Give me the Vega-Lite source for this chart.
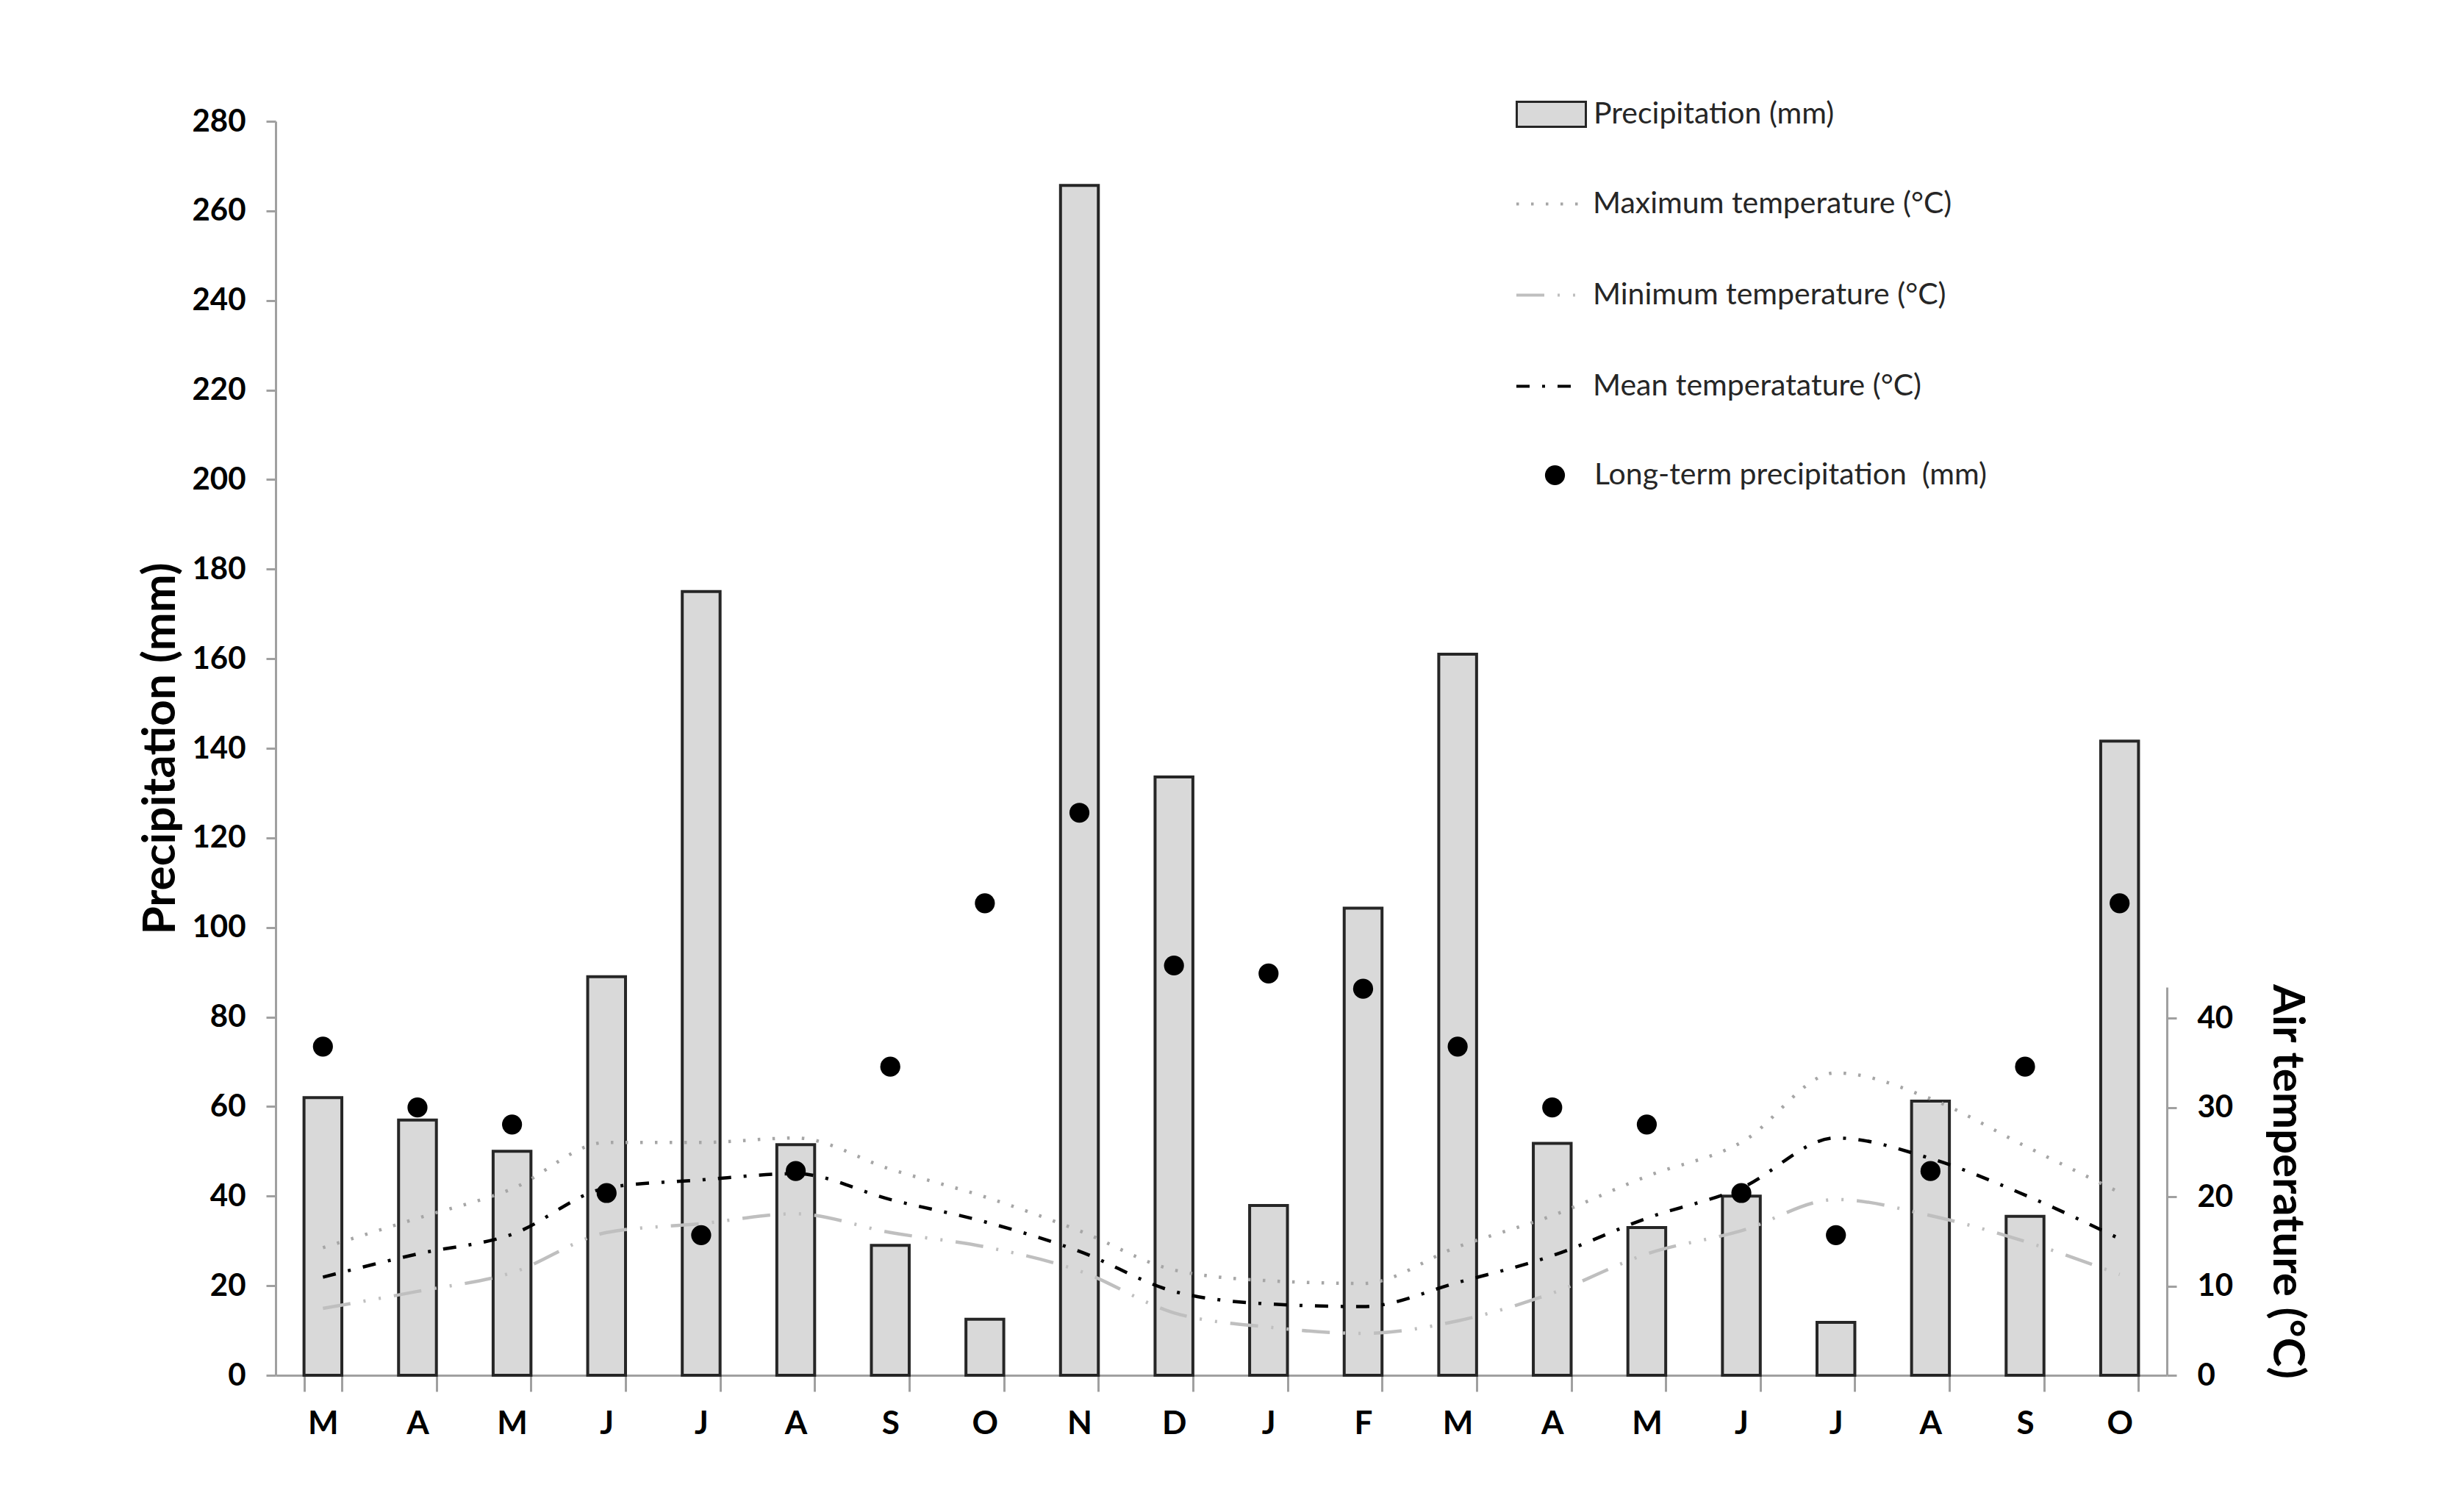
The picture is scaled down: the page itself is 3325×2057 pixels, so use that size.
{
  "$schema": "https://vega.github.io/schema/vega-lite/v6.json",
  "autosize": {"type": "none"},
  "width": 2573,
  "height": 1706,
  "padding": {"left": 375, "top": 165, "right": 377, "bottom": 186},
  "background": "white",
  "config": {
    "view": {"stroke": null},
    "font": "Lato",
    "legend": {"padding": 0, "labelFont": "Lato", "labelFontSize": 41, "labelColor": "#262626", "labelLimit": 900}
  },
  "data": {
    "values": [
      {"idx": 1, "precip": 62, "longterm": 73.4, "tmax": 14.3, "tmin": 7.5, "tmean": 11},
      {"idx": 2, "precip": 57, "longterm": 59.8, "tmax": 17.6, "tmin": 9.4, "tmean": 13.6},
      {"idx": 3, "precip": 50, "longterm": 56, "tmax": 20.9, "tmin": 11.5, "tmean": 15.8},
      {"idx": 4, "precip": 89, "longterm": 40.7, "tmax": 26.1, "tmin": 16, "tmean": 21},
      {"idx": 5, "precip": 175, "longterm": 31.3, "tmax": 26.1, "tmin": 17, "tmean": 21.9},
      {"idx": 6, "precip": 51.5, "longterm": 45.6, "tmax": 26.6, "tmin": 18.1, "tmean": 22.6},
      {"idx": 7, "precip": 29, "longterm": 68.9, "tmax": 23.1, "tmin": 16, "tmean": 19.7},
      {"idx": 8, "precip": 12.5, "longterm": 105.4, "tmax": 20, "tmin": 14.4, "tmean": 17.2},
      {"idx": 9, "precip": 265.7, "longterm": 125.6, "tmax": 16.2, "tmin": 11.7, "tmean": 13.9},
      {"idx": 10, "precip": 133.6, "longterm": 91.5, "tmax": 11.8, "tmin": 7, "tmean": 9.4},
      {"idx": 11, "precip": 37.9, "longterm": 89.7, "tmax": 10.6, "tmin": 5.4, "tmean": 8},
      {"idx": 12, "precip": 104.3, "longterm": 86.3, "tmax": 10.3, "tmin": 4.7, "tmean": 7.7},
      {"idx": 13, "precip": 161, "longterm": 73.4, "tmax": 14.4, "tmin": 6.1, "tmean": 10.4},
      {"idx": 14, "precip": 51.8, "longterm": 59.8, "tmax": 17.9, "tmin": 9.2, "tmean": 13.4},
      {"idx": 15, "precip": 33, "longterm": 56, "tmax": 22.3, "tmin": 13.6, "tmean": 17.6},
      {"idx": 16, "precip": 40, "longterm": 40.7, "tmax": 26.1, "tmin": 16.2, "tmean": 21},
      {"idx": 17, "precip": 11.8, "longterm": 31.3, "tmax": 33.9, "tmin": 19.7, "tmean": 26.6},
      {"idx": 18, "precip": 61.2, "longterm": 45.6, "tmax": 31, "tmin": 17.9, "tmean": 24.3},
      {"idx": 19, "precip": 35.5, "longterm": 68.9, "tmax": 25.7, "tmin": 15, "tmean": 20.2},
      {"idx": 20, "precip": 141.6, "longterm": 105.4, "tmax": 20.5, "tmin": 11.3, "tmean": 15.3}
    ]
  },
  "encoding": {
    "x": {
      "field": "idx",
      "type": "ordinal",
      "scale": {"paddingInner": 0.6, "paddingOuter": 0.3},
      "axis": {
        "title": null,
        "labelAngle": 0,
        "labelExpr": "datum.value >= 1 && datum.value <= 20 ? substring('MAMJJASONDJFMAMJJASO', datum.value - 1, datum.value) : ''",
        "labelFont": "Lato",
        "labelFontWeight": "bold",
        "labelFontSize": 44,
        "labelColor": "black",
        "labelPadding": 22,
        "tickBand": "extent",
        "tickSize": 22,
        "tickColor": "#a0a0a0",
        "tickWidth": 3,
        "domainColor": "#a0a0a0",
        "domainWidth": 3
      }
    }
  },
  "layer": [
    {
      "mark": {"type": "bar", "stroke": "#262626", "strokeWidth": 4},
      "encoding": {
        "y": {
          "field": "precip",
          "type": "quantitative",
          "scale": {"domain": [0, 280], "nice": false},
          "axis": {
            "values": [0, 20, 40, 60, 80, 100, 120, 140, 160, 180, 200, 220, 240, 260, 280],
            "title": "Precipitation (mm)",
            "titleFont": "Lato",
            "titleFontSize": 62,
            "titleFontWeight": "bold",
            "titleColor": "black",
            "titlePadding": 10,
            "labelFont": "Lato",
            "labelFontSize": 42,
            "labelFontWeight": "bold",
            "labelColor": "black",
            "labelPadding": 28,
            "tickSize": 13,
            "tickColor": "#a0a0a0",
            "tickWidth": 3,
            "domainColor": "#a0a0a0",
            "domainWidth": 3,
            "grid": false
          }
        },
        "fill": {
          "datum": "Precipitation (mm)",
          "scale": {"range": ["#d9d9d9"]},
          "legend": {
            "title": null,
            "orient": "none",
            "legendX": 1687,
            "legendY": -58,
            "symbolType": "M-1,-0.36H1V0.36H-1Z",
            "symbolSize": 8836,
            "symbolStrokeColor": "#262626",
            "symbolStrokeWidth": 3,
            "labelOffset": 9
          }
        }
      }
    },
    {
      "transform": [{"fold": ["tmax", "tmin", "tmean"], "as": ["series", "temp"]}],
      "mark": {"type": "line", "interpolate": "monotone", "strokeWidth": 4.5},
      "encoding": {
        "y": {
          "field": "temp",
          "type": "quantitative",
          "scale": {"domain": [0, 43.5], "nice": false, "range": [1706, 1178]},
          "axis": {
            "orient": "right",
            "values": [0, 10, 20, 30, 40],
            "title": "Air temperature (°C)",
            "titleFont": "Lato",
            "titleFontSize": 60,
            "titleFontWeight": "bold",
            "titleColor": "black",
            "titlePadding": 42,
            "labelFont": "Lato",
            "labelFontSize": 42,
            "labelFontWeight": "bold",
            "labelColor": "black",
            "labelPadding": 28,
            "tickSize": 13,
            "tickColor": "#a0a0a0",
            "tickWidth": 3,
            "domainColor": "#a0a0a0",
            "domainWidth": 3,
            "grid": false
          }
        },
        "color": {
          "field": "series",
          "type": "nominal",
          "scale": {"domain": ["tmax", "tmin", "tmean"], "range": ["#a6a6a6", "#bfbfbf", "#000000"]},
          "legend": {
            "title": null,
            "orient": "none",
            "legendX": 1686,
            "legendY": 65,
            "symbolType": "stroke",
            "symbolSize": 8281,
            "symbolStrokeWidth": 4,
            "labelOffset": 11,
            "rowPadding": 56,
            "labelExpr": "datum.value == 'tmax' ? 'Maximum temperature (°C)' : datum.value == 'tmin' ? 'Minimum temperature (°C)' : 'Mean temperatature (°C)'"
          }
        },
        "strokeDash": {
          "field": "series",
          "type": "nominal",
          "scale": {"domain": ["tmax", "tmin", "tmean"], "range": [[3.5, 16.5], [38, 18, 3, 18, 3, 18], [18, 17, 4, 17]]},
          "legend": {
            "title": null,
            "orient": "none",
            "legendX": 1686,
            "legendY": 65,
            "symbolType": "stroke",
            "symbolSize": 8281,
            "symbolStrokeWidth": 4,
            "labelOffset": 11,
            "rowPadding": 56,
            "labelExpr": "datum.value == 'tmax' ? 'Maximum temperature (°C)' : datum.value == 'tmin' ? 'Minimum temperature (°C)' : 'Mean temperatature (°C)'"
          }
        }
      }
    },
    {
      "mark": {"type": "point", "filled": true, "size": 740, "color": "black", "opacity": 1},
      "encoding": {
        "y": {
          "field": "longterm",
          "type": "quantitative",
          "scale": {"domain": [0, 280], "nice": false},
          "axis": null
        },
        "shape": {
          "datum": "Long-term precipitation \u00a0(mm)",
          "scale": {"range": ["circle"]},
          "legend": {
            "title": null,
            "orient": "none",
            "legendX": 1720,
            "legendY": 461,
            "symbolType": "circle",
            "symbolSize": 740,
            "symbolFillColor": "black",
            "symbolStrokeColor": "black",
            "labelOffset": 33
          }
        }
      }
    }
  ],
  "resolve": {"scale": {"y": "independent"}}
}
